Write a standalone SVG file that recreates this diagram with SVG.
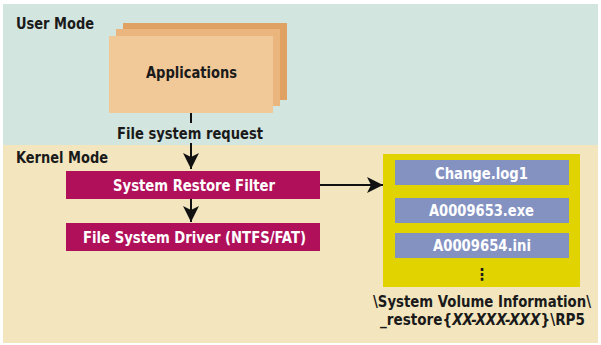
<svg xmlns="http://www.w3.org/2000/svg" width="601" height="345" viewBox="0 0 601 345">
<defs>
<style>
text{font-family:"DejaVu Sans Condensed","DejaVu Sans","Liberation Sans",sans-serif;font-weight:bold;font-size:15px;}
.dark{fill:#1a1a1a;}
.white{fill:#ffffff;}
.mid{text-anchor:middle;}
.filt{fill:#b0105a;}
.file{fill:#8492c2;}
.conn{stroke:#111;stroke-width:2;fill:none;}
</style>
<marker id="arr" viewBox="0 0 16 16" refX="16" refY="8" markerWidth="16" markerHeight="16" orient="auto" markerUnits="userSpaceOnUse">
<path d="M0,0 L16,8 L0,16 L4,8 z" fill="#111"/>
</marker>
</defs>
<rect x="0" y="0" width="601" height="345" fill="#ffffff"/>
<g id="user-mode">
<rect x="3" y="4" width="595" height="141" fill="#d3e5df"/>
<text class="dark" x="16" y="29" textLength="78" lengthAdjust="spacingAndGlyphs">User Mode</text>
</g>
<g id="kernel-mode">
<rect x="3" y="145" width="595" height="198" fill="#f3e6bf"/>
<text class="dark" x="16" y="163" textLength="92" lengthAdjust="spacingAndGlyphs">Kernel Mode</text>
</g>
<g id="applications">
<rect x="123" y="23" width="164" height="77" fill="#e0a262"/>
<rect x="116" y="29" width="164" height="77" fill="#ebb67e"/>
<rect x="109" y="36" width="164" height="77" fill="#f1c898"/>
<text class="dark mid" x="191.5" y="78" textLength="91" lengthAdjust="spacingAndGlyphs">Applications</text>
</g>
<g id="connectors">
<line class="conn" x1="191" y1="113" x2="191" y2="123"/>
<line class="conn" x1="191" y1="143" x2="191" y2="169" marker-end="url(#arr)"/>
<line class="conn" x1="191" y1="199" x2="191" y2="222" marker-end="url(#arr)"/>
<line class="conn" x1="320" y1="185" x2="383" y2="185" marker-end="url(#arr)"/>
<text class="dark mid" x="190" y="139" textLength="146" lengthAdjust="spacingAndGlyphs">File system request</text>
</g>
<g id="system-restore-filter">
<rect class="filt" x="66" y="171" width="254" height="28"/>
<text class="white mid" x="194" y="191" textLength="162" lengthAdjust="spacingAndGlyphs">System Restore Filter</text>
</g>
<g id="file-system-driver">
<rect class="filt" x="66" y="223" width="254" height="28"/>
<text class="white mid" x="194.5" y="243" textLength="223" lengthAdjust="spacingAndGlyphs">File System Driver (NTFS/FAT)</text>
</g>
<g id="restore-folder">
<rect x="383" y="154" width="197" height="133" fill="#e1d300"/>
<rect class="file" x="395" y="160" width="174" height="25"/>
<text class="white mid" x="481.5" y="179" textLength="93" lengthAdjust="spacingAndGlyphs">Change.log1</text>
<rect class="file" x="395" y="198" width="174" height="25"/>
<text class="white mid" x="481.5" y="216" textLength="105" lengthAdjust="spacingAndGlyphs">A0009653.exe</text>
<rect class="file" x="395" y="233" width="174" height="25"/>
<text class="white mid" x="482" y="251" textLength="98" lengthAdjust="spacingAndGlyphs">A0009654.ini</text>
<text class="dark mid" x="482" y="280" style="font-size:16px">⋮</text>
<text class="dark mid" x="482" y="307" textLength="218" lengthAdjust="spacingAndGlyphs">\System Volume Information\</text>
<text class="dark mid" x="482.5" y="325" textLength="205" lengthAdjust="spacingAndGlyphs">_restore{<tspan font-style="italic">XX-XXX-XXX</tspan>}\RP5</text>
</g>
</svg>
